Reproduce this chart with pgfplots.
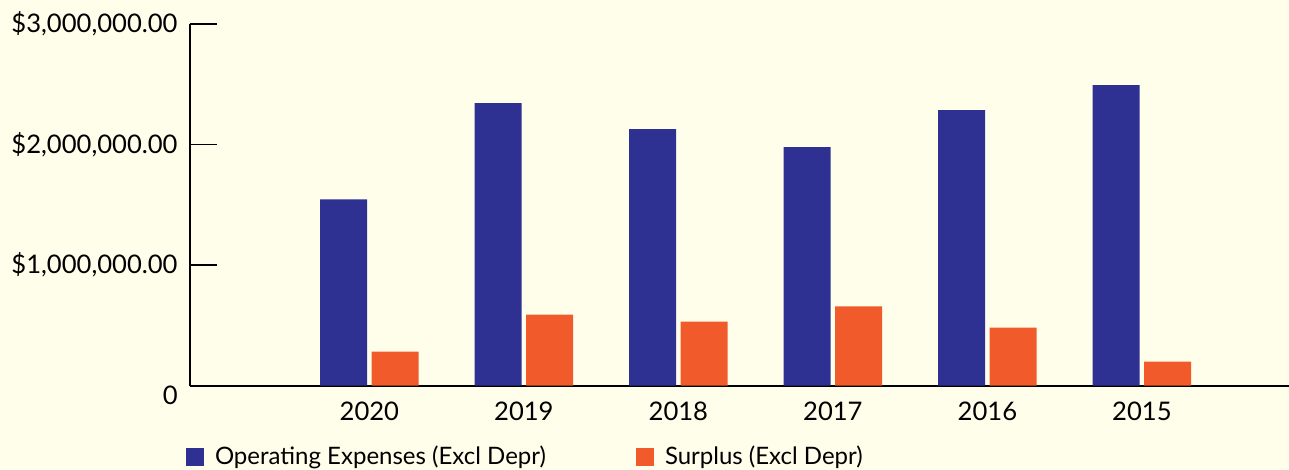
\documentclass[border=0pt]{standalone}
\usepackage{fontspec}
\setmainfont{Lato}
\usepackage{pgfplots}
\pgfplotsset{compat=1.18}
\definecolor{bg}{HTML}{FFFEEB}
\definecolor{opblue}{HTML}{2E3192}
\definecolor{suorange}{HTML}{F15A2B}
\begin{document}
\begin{tikzpicture}
\useasboundingbox (-95pt,-42.15pt) rectangle (549.5pt,192.85pt);
\fill[bg] (-95pt,-42.15pt) rectangle (549.5pt,192.85pt);
\begin{axis}[
  at={(0pt,0pt)}, anchor=south west,
  width=549.5pt, height=180.85pt, scale only axis,
  xmin=-1.161, xmax=5.952, ymin=0, ymax=3000000,
  axis x line=bottom, axis y line=left,
  axis line style={-, line width=0.85pt, black},
  scaled y ticks=false,
  ytick={0,1000000,2000000,3000000},
  yticklabels={\raisebox{-9.6pt}[0pt][0pt]{0},{\$1,000,000.00},{\$2,000,000.00},{\$3,000,000.00}},
  xtick={0,1,2,3,4,5},
  xticklabels={2020,2019,2018,2017,2016,2015},
  x tick style={draw=none},
  y tick style={line width=0.65pt, black},
  tick align=inside, major tick length=13.5pt,
  tick label style={font=\fontsize{12.8}{15}\selectfont, black},
  yticklabel style={inner sep=0pt, xshift=-6pt},
  xticklabel style={inner sep=0pt, yshift=-8pt},
  legend columns=2,
  legend style={at={(rel axis cs:-0.0039,-0.1667)}, anchor=north west,
    draw=none, fill=none, inner sep=0pt, outer sep=0pt,
    font=\fontsize{12}{14}\selectfont,
    nodes={inner sep=0pt},
    /tikz/every odd column/.style={column sep=5.65pt}},
]
\addplot[ybar, bar shift=0pt, bar width=0.304, fill=opblue, draw=none,
  legend image code/.code={\fill[opblue] (0pt,-4.5pt) rectangle (9pt,4.5pt);}]
  coordinates {(-0.1667,1546000) (0.8333,2344000) (1.8333,2128000) (2.8333,1978000) (3.8333,2286000) (4.8333,2494000)};
\addlegendentry{\makebox[210.35pt][l]{Operating Expenses (Excl Depr)}}
\addplot[ybar, bar shift=0pt, bar width=0.304, fill=suorange, draw=none,
  legend image code/.code={\fill[suorange] (0pt,-4.5pt) rectangle (9pt,4.5pt);}]
  coordinates {(0.1667,283000) (1.1667,590000) (2.1667,532000) (3.1667,657000) (4.1667,482000) (5.1667,200000)};
\addlegendentry{Surplus (Excl Depr)}
\end{axis}
\end{tikzpicture}
\end{document}
